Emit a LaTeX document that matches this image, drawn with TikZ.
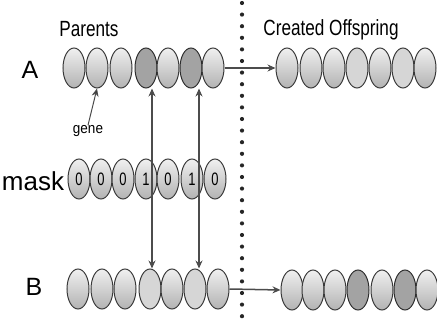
\documentclass[tikz,border=0pt]{standalone}
\usepackage{fontspec}
\setmainfont{Liberation Sans}
\usetikzlibrary{shapes.geometric,arrows.meta}
\tikzset{
  gen/.style={ellipse, minimum width=22pt, minimum height=40pt, inner sep=0pt,
    draw=gray!45!black, line width=1pt},
  lt/.style={gen, top color=gray!12, middle color=white, bottom color=gray!60},
  dk/.style={gen, fill=gray!72, draw=gray!35!black},
  md/.style={gen, fill=gray!32},
  msk/.style={lt, font=\fontsize{18}{18}\selectfont},
  lbl/.style={inner sep=0pt},
  conn/.style={draw=gray!60!black, line width=1.5pt, -{Stealth[length=8pt,width=7pt,fill=gray!30!black]}},
  dconn/.style={conn, line width=1.8pt, {Stealth[length=8pt,width=7pt,fill=gray!30!black]}-{Stealth[length=8pt,width=7pt,fill=gray!30!black]}},
  dots/.style={line width=4.2pt, line cap=round, dash pattern=on 0pt off 11.6pt, draw=black!85}
}
\newcommand{\nar}[1]{\scalebox{0.78}[1]{#1}}
\newcommand{\dg}[1]{\scalebox{0.72}[1]{#1}}
\begin{document}
\begin{tikzpicture}[x=1pt,y=-1pt]
\useasboundingbox (0,0) rectangle (437,326);
% dotted separator
\coordinate (dtop) at (242,3);
\coordinate (dbot) at (242,326);
\draw[dots] (dtop) -- (dbot);
% labels
\node[lbl, font=\fontsize{22}{22}\selectfont] (lparents) at (89,29) {\nar{Parents}};
\node[lbl, font=\fontsize{22}{22}\selectfont] (loff) at (331,30) {\nar{Created Offspring}};
\node[lbl, font=\fontsize{25}{25}\selectfont] (lA) at (30,70) {A};
\node[lbl, font=\fontsize{25}{25}\selectfont] (lB) at (34,287) {B};
\node[lbl, font=\fontsize{26}{26}\selectfont] (lmask) at (33,181) {mask};
\node[lbl, font=\fontsize{15}{15}\selectfont] (lgene) at (88,131) {\scalebox{0.9}[1]{gene}};
% parent A
\node[lt] (a1) at (74,68) {};
\node[lt] (a2) at (97,68) {};
\node[lt] (a3) at (121,68) {};
\node[dk] (a4) at (146,68) {};
\node[lt] (a5) at (168,68) {};
\node[dk] (a6) at (191,68) {};
\node[lt] (a7) at (213,68) {};
% offspring A
\node[lt] (oa1) at (287,68) {};
\node[lt] (oa2) at (311,68) {};
\node[lt] (oa3) at (334,68) {};
\node[md] (oa4) at (357,68) {};
\node[lt] (oa5) at (380,68) {};
\node[md] (oa6) at (403,68) {};
\node[lt] (oa7) at (425,68) {};
% mask
\node[msk] (m1) at (79,179) {\dg{0}};
\node[msk] (m2) at (101,179) {\dg{0}};
\node[msk] (m3) at (123,179) {\dg{0}};
\node[msk] (m4) at (146,179) {\dg{1}};
\node[msk] (m5) at (168,179) {\dg{0}};
\node[msk] (m6) at (192,179) {\dg{1}};
\node[msk] (m7) at (215,179) {\dg{0}};
% parent B
\node[lt] (b1) at (78,289) {};
\node[lt] (b2) at (102,289) {};
\node[lt] (b3) at (125,289) {};
\node[md] (b4) at (150,289) {};
\node[lt] (b5) at (172,289) {};
\node[md] (b6) at (195,289) {};
\node[lt] (b7) at (218,289) {};
% offspring B
\node[lt] (ob1) at (292,290) {};
\node[lt] (ob2) at (313,290) {};
\node[lt] (ob3) at (335,290) {};
\node[dk] (ob4) at (358,290) {};
\node[lt] (ob5) at (382,290) {};
\node[dk] (ob6) at (405,290) {};
\node[lt] (ob7) at (427,290) {};
% connectors
\draw[conn] (a7.east) -- (oa1.west);
\draw[conn] (b7.east) -- (ob1.west);
\draw[conn, line width=1pt] (lgene.north) -- (a2.south);
\draw[dconn] ([xshift=6pt]a4.south) -- ([xshift=2pt]b4.north);
\draw[dconn] ([xshift=8pt]a6.south) -- ([xshift=4pt]b6.north);
\end{tikzpicture}
\end{document}
